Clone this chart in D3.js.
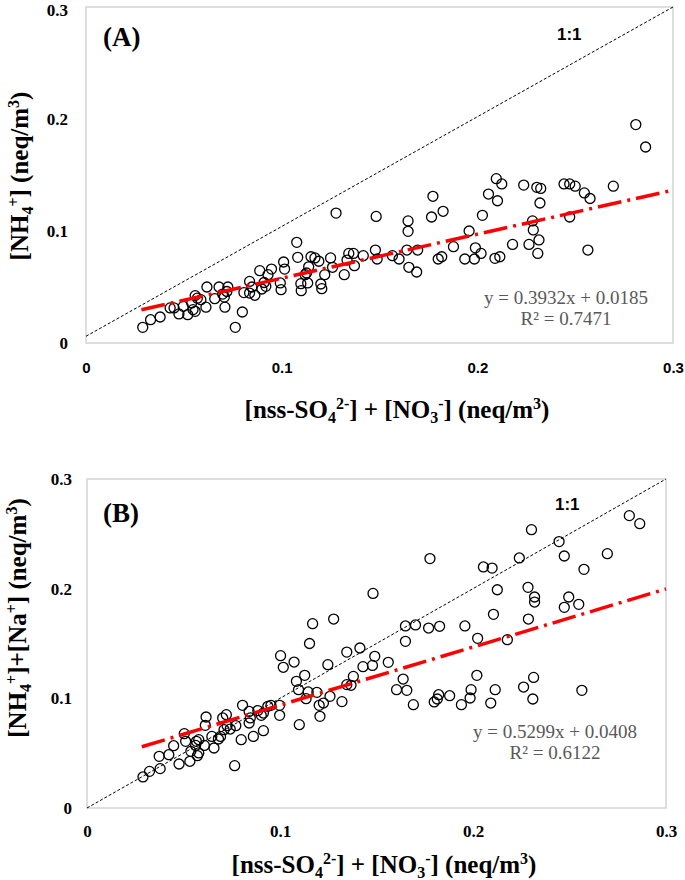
<!DOCTYPE html>
<html><head><meta charset="utf-8">
<script src="https://cdn.jsdelivr.net/npm/d3@7"></script>
<style>body{margin:0;background:#fff}svg{display:block}</style>
</head><body>
<svg id="c" width="685" height="880"></svg>
<script>
// ---------- DATA ----------
const tickValues = [0, 0.1, 0.2, 0.3];

// Panel A: x = nss-SO4 + NO3, y = NH4
const pointsA_x = [0.281,0.286,0.2097,0.2125,0.2237,0.2304,0.2324,0.2443,0.2472,0.25,0.2547,0.2576,0.2695,0.2057,0.2103,0.232,0.2026,0.2472,0.2282,0.2286,0.2315,0.2309,0.2264,0.218,0.2565,0.1958,0.199,0.2019,0.1936,0.1985,0.209,0.2115,0.1878,0.1773,0.1766,0.1825,0.180,0.1818,0.1646,0.1646,0.164,0.1695,0.165,0.169,0.1566,0.16,0.1483,0.1479,0.1488,0.1278,0.1343,0.1367,0.1417,0.1334,0.1372,0.132,0.125,0.126,0.122,0.119,0.117,0.115,0.1138,0.1127,0.112,0.1133,0.1098,0.110,0.1082,0.1077,0.12,0.1205,0.101,0.1015,0.0993,0.0997,0.0948,0.093,0.0888,0.091,0.0919,0.0899,0.0836,0.0848,0.0863,0.0836,0.0807,0.0799,0.0763,0.0725,0.072,0.0707,0.071,0.068,0.0698,0.0658,0.0618,0.0613,0.0587,0.0569,0.0558,0.054,0.0547,0.0558,0.052,0.0475,0.0497,0.045,0.043,0.0379,0.033,0.029];
const pointsA_y = [0.195,0.175,0.1467,0.142,0.141,0.139,0.138,0.142,0.142,0.140,0.134,0.129,0.140,0.133,0.127,0.125,0.114,0.1125,0.109,0.101,0.092,0.080,0.088,0.088,0.083,0.100,0.085,0.080,0.075,0.075,0.0756,0.077,0.086,0.131,0.1125,0.1176,0.075,0.077,0.109,0.0997,0.083,0.083,0.0676,0.0634,0.078,0.075,0.113,0.083,0.075,0.116,0.080,0.080,0.078,0.074,0.069,0.061,0.076,0.0676,0.061,0.073,0.076,0.077,0.068,0.0625,0.061,0.0536,0.053,0.0467,0.0765,0.0899,0.0527,0.0485,0.0723,0.066,0.0536,0.0476,0.066,0.061,0.0646,0.054,0.0506,0.0482,0.055,0.050,0.0426,0.0446,0.045,0.0277,0.014,0.050,0.046,0.041,0.032,0.050,0.0437,0.0396,0.050,0.032,0.0387,0.040,0.0423,0.0357,0.0298,0.0283,0.0253,0.026,0.0327,0.0313,0.0313,0.0232,0.0208,0.014];
const trendA = {slope: 0.3932, intercept: 0.0185, xStart: 0.0283, xEnd: 0.3};
const oneToOneA = [[0, 0.006], [0.3, 0.3]];
const eqA = ["y = 0.3932x + 0.0185", "R\u00b2 = 0.7471"];

// Panel B: x = nss-SO4 + NO3, y = NH4 + Na
const pointsB_x = [0.281,0.2864,0.2303,0.2446,0.2696,0.2473,0.224,0.1777,0.2054,0.2099,0.2575,0.2126,0.2285,0.2319,0.2319,0.2496,0.2473,0.2548,0.1482,0.2106,0.2287,0.1278,0.1169,0.165,0.1702,0.177,0.1827,0.1958,0.2024,0.2178,0.165,0.1153,0.1346,0.1414,0.1003,0.1017,0.1073,0.1248,0.1491,0.1479,0.143,0.1561,0.1128,0.1085,0.138,0.1346,0.1368,0.1096,0.1135,0.1146,0.1191,0.1259,0.1225,0.1203,0.1207,0.1321,0.1638,0.1604,0.1657,0.1691,0.1799,0.1815,0.1822,0.1879,0.194,0.1985,0.199,0.202,0.2092,0.2115,0.2262,0.2314,0.231,0.2564,0.110,0.0998,0.0998,0.0953,0.0937,0.0914,0.0903,0.0885,0.084,0.0846,0.084,0.0806,0.0862,0.0914,0.0799,0.0765,0.0771,0.0722,0.0703,0.0726,0.071,0.0742,0.0692,0.0681,0.0647,0.0658,0.0617,0.0613,0.0608,0.0579,0.0567,0.0563,0.0538,0.0579,0.0572,0.0533,0.0511,0.0504,0.0449,0.0477,0.0424,0.0374,0.0379,0.0324,0.029];
const pointsB_y = [0.2666,0.2593,0.2538,0.2429,0.2319,0.2298,0.228,0.2274,0.2198,0.2188,0.2176,0.199,0.2012,0.1924,0.1878,0.1924,0.183,0.1857,0.1957,0.1766,0.1723,0.1723,0.1681,0.166,0.1669,0.1641,0.1657,0.166,0.1547,0.1535,0.152,0.150,0.1422,0.1459,0.1389,0.1283,0.1331,0.1307,0.1383,0.130,0.1289,0.1328,0.121,0.1155,0.120,0.1125,0.1119,0.1079,0.0997,0.1058,0.1055,0.1018,0.0957,0.0936,0.0836,0.097,0.1176,0.1079,0.1073,0.0942,0.0967,0.0994,0.1033,0.1024,0.0942,0.1003,0.1079,0.121,0.0957,0.1079,0.1103,0.1191,0.0994,0.1073,0.076,0.0936,0.0845,0.0936,0.0927,0.0866,0.0845,0.0888,0.0881,0.0821,0.0775,0.0936,0.0653,0.0705,0.0623,0.0386,0.0751,0.0851,0.0821,0.0751,0.0714,0.072,0.0653,0.0629,0.0653,0.0547,0.083,0.0754,0.0571,0.0623,0.0608,0.0571,0.0517,0.0502,0.0477,0.0426,0.0608,0.0678,0.0568,0.0401,0.0486,0.0471,0.0359,0.0334,0.0283];
const trendB = {slope: 0.5299, intercept: 0.0408, xStart: 0.0284, xEnd: 0.3};
const oneToOneB = [[0, 0], [0.3, 0.3]];
const eqB = ["y = 0.5299x + 0.0408", "R\u00b2 = 0.6122"];

// ---------- DRAW ----------
const svg = d3.select("#c");
const serif = "'Liberation Serif','Times New Roman',serif";
const sans = "'Liberation Sans',Arial,sans-serif";
const fmt = d => d === 0 ? "0" : d3.format(".1f")(d);

function panel(cfg) {
  const x = d3.scaleLinear().domain([0, 0.3]).range([cfg.left, cfg.right]);
  const y = d3.scaleLinear().domain([0, 0.3]).range([cfg.bottom, cfg.top]);
  const g = svg.append("g");

  g.append("rect").attr("x", cfg.left).attr("y", cfg.top)
    .attr("width", cfg.right - cfg.left).attr("height", cfg.bottom - cfg.top)
    .attr("fill", "none").attr("stroke", "#d4d4d4").attr("stroke-width", 1.5);

  const ax = g.append("g").attr("transform", `translate(0,${cfg.bottom})`)
    .call(d3.axisBottom(x).tickValues(tickValues).tickSize(0).tickPadding(cfg.xPad).tickFormat(fmt));
  ax.select(".domain").remove();
  ax.selectAll("text").attr("font-family", cfg.xTickFont).attr("font-weight", "bold")
    .attr("font-size", cfg.xTickSize).attr("fill", "#000");

  const ay = g.append("g").attr("transform", `translate(${cfg.left},0)`)
    .call(d3.axisLeft(y).tickValues(tickValues).tickSize(0).tickPadding(cfg.yPad).tickFormat(fmt));
  ay.select(".domain").remove();
  ay.selectAll("text").attr("font-family", serif).attr("font-weight", "bold")
    .attr("font-size", cfg.yTickSize).attr("fill", "#000");
  // keep the top label inside the picture
  ay.selectAll(".tick").filter(d => y(d) < 12).select("text").attr("dy", "0.52em");

  g.append("path").datum(cfg.one)
    .attr("d", d3.line().x(d => x(d[0])).y(d => y(d[1])))
    .attr("fill", "none").attr("stroke", "#000").attr("stroke-width", 1)
    .attr("stroke-dasharray", "3,2");

  g.append("g").selectAll("circle").data(cfg.px.map((v, i) => [v, cfg.py[i]]))
    .join("circle").attr("cx", d => x(d[0])).attr("cy", d => y(d[1])).attr("r", 5)
    .attr("fill", "none").attr("stroke", "#000").attr("stroke-width", 1.3);

  const t = cfg.trend;
  g.append("path").datum([t.xStart, t.xEnd])
    .attr("d", d3.line().x(d => x(d)).y(d => y(t.slope * d + t.intercept)))
    .attr("fill", "none").attr("stroke", "#ff0000").attr("stroke-width", 3.5)
    .attr("stroke-dasharray", "24,6,3,6");

  g.append("text").attr("x", cfg.tagX).attr("y", cfg.tagY).text(cfg.tag)
    .attr("font-family", serif).attr("font-weight", "bold").attr("font-size", 27);
  g.append("text").attr("x", cfg.oneX).attr("y", cfg.oneY).text("1:1")
    .attr("font-family", sans).attr("font-weight", "bold").attr("font-size", 17);
  cfg.eq.forEach((s, i) => {
    g.append("text").attr("x", cfg.eqX).attr("y", cfg.eqY + i * 20.6).text(s)
      .attr("text-anchor", "middle").attr("font-family", serif)
      .attr("font-size", 19).attr("fill", "#595959");
  });

  const xt = g.append("text").attr("x", cfg.xtX).attr("y", cfg.xtY)
    .attr("text-anchor", "middle").attr("font-family", serif).attr("font-weight", "bold")
    .attr("font-size", 25);
  cfg.xTitle.forEach(p => {
    const ts = xt.append("tspan").text(p[0]);
    if (p[1] === "sub") ts.attr("font-size", 16).attr("dy", 5);
    if (p[1] === "sup") ts.attr("font-size", 16).attr("dy", -9);
    if (p[2]) ts.attr("dy", p[2]);
  });
  const yt = g.append("text").attr("transform", `translate(${cfg.ytX},${cfg.ytY}) rotate(-90)`)
    .attr("text-anchor", "middle").attr("font-family", serif).attr("font-weight", "bold")
    .attr("font-size", 25);
  cfg.yTitle.forEach(p => {
    const ts = yt.append("tspan").text(p[0]);
    if (p[1] === "sub") ts.attr("font-size", 16).attr("dy", 5);
    if (p[1] === "sup") ts.attr("font-size", 16).attr("dy", -9);
    if (p[2]) ts.attr("dy", p[2]);
  });
}

const xTitleParts = [["[nss-SO"],["4","sub"],["2-","sup",-14],["] + [NO","",9],["3","sub"],["-","sup",-14],["] (neq/m","",9],["3","sup"],[")","",9]];
const yTitleA = [["[NH"],["4","sub"],["+","sup",-14],["] (neq/m","",9],["3","sup"],[")","",9]];
const yTitleB = [["[NH"],["4","sub"],["+","sup",-14],["]+[Na","",9],["+","sup"],["] (neq/m","",9],["3","sup"],[")","",9]];

panel({left: 86, right: 673, top: 7, bottom: 343,
  px: pointsA_x, py: pointsA_y, trend: trendA, one: oneToOneA, eq: eqA,
  xTickFont: sans, xTickSize: 15, xPad: 19, yTickSize: 17, yPad: 18,
  tag: "(A)", tagX: 103, tagY: 46, oneX: 557, oneY: 40,
  eqX: 566, eqY: 304, xtX: 397, xtY: 418, ytX: 28, ytY: 176,
  xTitle: xTitleParts, yTitle: yTitleA});

panel({left: 87, right: 666, top: 479, bottom: 808,
  px: pointsB_x, py: pointsB_y, trend: trendB, one: oneToOneB, eq: eqB,
  xTickFont: serif, xTickSize: 17, xPad: 17, yTickSize: 17, yPad: 15,
  tag: "(B)", tagX: 103, tagY: 522, oneX: 555, oneY: 510,
  eqX: 555, eqY: 738, xtX: 384, xtY: 873, ytX: 26, ytY: 618,
  xTitle: xTitleParts, yTitle: yTitleB});
</script>
</body></html>
